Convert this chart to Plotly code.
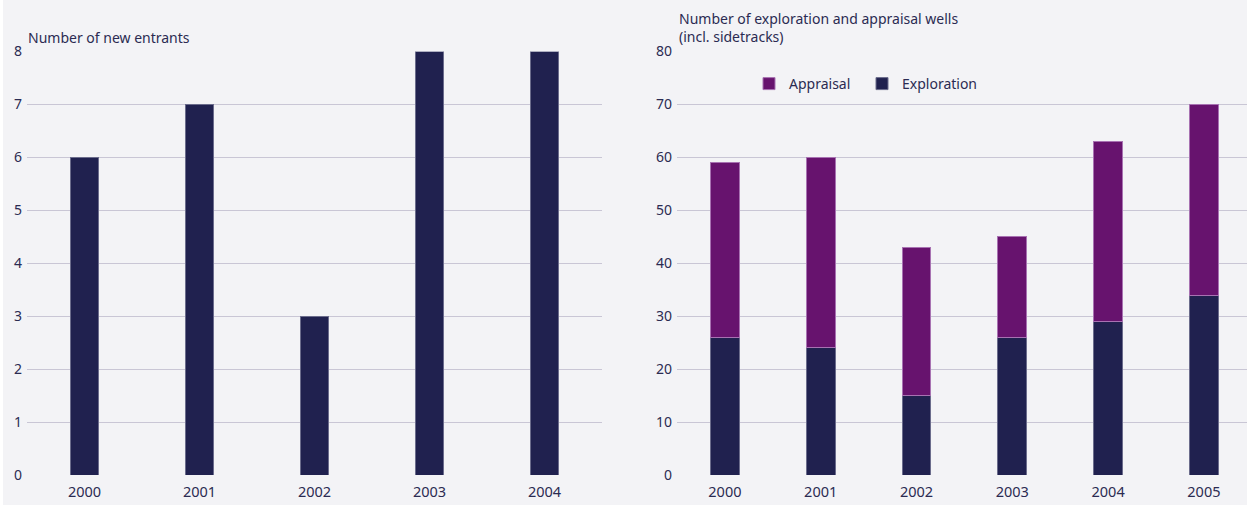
import plotly.graph_objects as go

# ---- data ----
years_left = ["2000", "2001", "2002", "2003", "2004"]
new_entrants = [6, 7, 3, 8, 8]

years_right = ["2000", "2001", "2002", "2003", "2004", "2005"]
exploration = [26, 24, 15, 26, 29, 34]
appraisal = [33, 36, 28, 19, 34, 36]

left_ticks = [0, 1, 2, 3, 4, 5, 6, 7, 8]
right_ticks = [0, 10, 20, 30, 40, 50, 60, 70, 80]

# ---- styles ----
NAVY = "#20214f"
PURPLE = "#67136e"
BG = "#f3f3f6"
GRID = "#c9c6d5"
TXT = "#2b2b52"
FONT = "Noto Sans"

W, H = 1247, 507

fig = go.Figure()

fig.add_trace(go.Bar(
    x=years_left, y=new_entrants, xaxis="x", yaxis="y",
    marker=dict(color=NAVY, line=dict(color="#6b6c8c", width=1)),
    width=0.25, showlegend=False,
))

fig.add_trace(go.Bar(
    x=years_right, y=exploration, xaxis="x2", yaxis="y2", name="Exploration",
    marker=dict(color=NAVY, line=dict(color="#6b6c8c", width=1)),
    width=0.3, legend="legend2",
))
fig.add_trace(go.Bar(
    x=years_right, y=appraisal, xaxis="x2", yaxis="y2", name="Appraisal",
    marker=dict(color=PURPLE, line=dict(color="#a872b2", width=1)),
    width=0.3, legend="legend",
))

ydom = [1 - 475 / H, 1 - 51.5 / H]
ytickfont = dict(family=FONT, size=14, color=TXT)
xtickfont = dict(family=FONT, size=14.5, color=TXT)
legfont = dict(family=FONT, size=14, color=TXT)

fig.update_layout(
    width=W, height=H,
    autosize=False,
    margin=dict(l=0, r=0, t=0, b=0, pad=0, autoexpand=False),
    paper_bgcolor="#ffffff", plot_bgcolor=BG,
    barmode="stack",
    font=dict(family=FONT, size=14, color=TXT),
    shapes=[dict(type="rect", xref="paper", yref="paper", layer="below",
                 x0=3 / W, x1=1, y0=2 / H, y1=1, fillcolor=BG, line=dict(width=0))],
    xaxis=dict(domain=[27 / W, 602 / W], range=[-0.5, 4.5], showgrid=False,
               showline=False, zeroline=False, ticks="", tickfont=xtickfont,
               type="category", anchor="y", automargin=False,
               ticklabelstandoff=6),
    yaxis=dict(domain=ydom, range=[0, 8], tickvals=left_ticks, showgrid=True,
               gridcolor=GRID, gridwidth=1.3, zeroline=False, showline=False,
               ticks="", tickfont=ytickfont, anchor="x", ticklabelstandoff=4,
               automargin=False),
    xaxis2=dict(domain=[677 / W, 1.0], range=[-0.5, 5.45], showgrid=False,
                showline=False, zeroline=False, ticks="", tickfont=xtickfont,
                type="category", anchor="y2", automargin=False,
                ticklabelstandoff=6),
    yaxis2=dict(domain=ydom, range=[0, 80], tickvals=right_ticks, showgrid=True,
                gridcolor=GRID, gridwidth=1.3, zeroline=False, showline=False,
                ticks="", tickfont=ytickfont, anchor="x2", ticklabelstandoff=4,
                automargin=False),
    legend=dict(orientation="h", x=749 / W, y=1 - 84 / H, xanchor="left",
                yanchor="middle", bgcolor="rgba(0,0,0,0)", font=legfont,
                itemwidth=30),
    legend2=dict(orientation="h", x=862 / W, y=1 - 84 / H, xanchor="left",
                 yanchor="middle", bgcolor="rgba(0,0,0,0)", font=legfont,
                 itemwidth=30),
    annotations=[
        dict(text="Number of new entrants", xref="paper", yref="paper",
             x=26 / W, y=1 - 38 / H, xanchor="left", yanchor="middle",
             showarrow=False, font=dict(family=FONT, size=14, color=TXT)),
        dict(text="Number of exploration and appraisal wells<br>(incl. sidetracks)",
             xref="paper", yref="paper", x=677 / W, y=1 - 48 / H,
             xanchor="left", yanchor="bottom", align="left", showarrow=False,
             font=dict(family=FONT, size=14, color=TXT)),
    ],
)

fig.write_html(
    "out.html",
    config={"displayModeBar": False},
    post_script="document.body.style.margin='0';document.body.style.overflow='hidden';",
)
